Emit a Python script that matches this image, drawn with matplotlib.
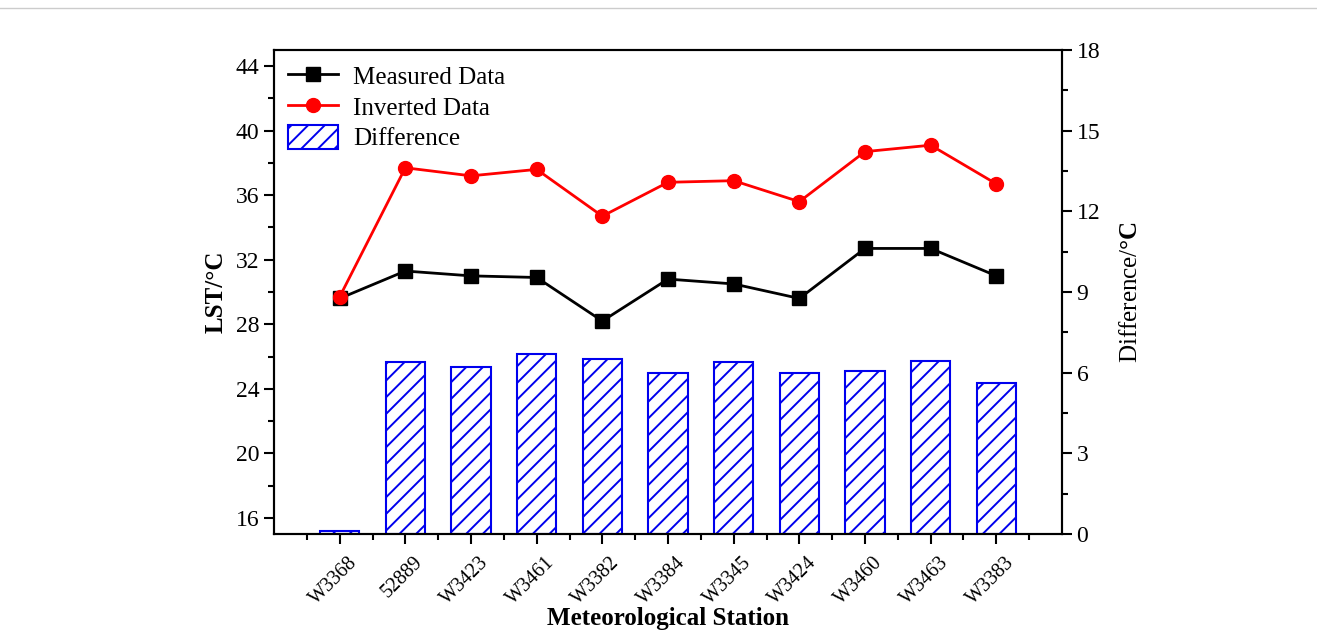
import matplotlib
matplotlib.use("Agg")
import matplotlib.pyplot as plt
from matplotlib.lines import Line2D
from matplotlib.transforms import ScaledTranslation
import numpy as np

stations = ["W3368", "52889", "W3423", "W3461", "W3382", "W3384",
            "W3345", "W3424", "W3460", "W3463", "W3383"]
measured = [29.6, 31.3, 31.0, 30.9, 28.2, 30.8, 30.5, 29.6, 32.7, 32.7, 31.0]
inverted = [29.7, 37.7, 37.2, 37.6, 34.7, 36.8, 36.9, 35.6, 38.7, 39.1, 36.7]
difference = [0.1, 6.4, 6.2, 6.7, 6.5, 6.0, 6.4, 6.0, 6.05, 6.45, 5.63]

plt.rcParams['font.family'] = ['Liberation Serif', 'DejaVu Serif']
plt.rcParams['mathtext.fontset'] = 'custom'
plt.rcParams['mathtext.rm'] = 'Liberation Serif'
plt.rcParams['mathtext.bf'] = 'Liberation Serif:bold'
plt.rcParams['hatch.linewidth'] = 1.4
plt.rcParams['hatch.color'] = '#0000ee'

fig = plt.figure(figsize=(13.17, 6.42), dpi=100)
ax = fig.add_axes([274/1317, 1-534/642, (1062-274)/1317, (534-50)/642])
ax2 = ax.twinx()

x = np.arange(1, len(stations) + 1)

bars = ax2.bar(x, difference, width=0.6, facecolor='white', edgecolor='#0000ee',
               hatch='//', linewidth=1.5, label='Difference')
l1, = ax.plot(x, measured, color='black', marker='s', markersize=10, linewidth=2,
              label='Measured Data')
l2, = ax.plot(x, inverted, color='#ff0000', marker='o', markersize=10, linewidth=2,
              label='Inverted Data')

ax.set_zorder(ax2.get_zorder() + 1)
ax.patch.set_visible(False)

ax.set_xlim(0, 12)
ax.set_ylim(15, 45)
ax2.set_ylim(0, 18)

ax.set_xticks(x)
ax.set_xticklabels(stations, rotation=45, ha='right', rotation_mode='anchor')
ax.set_xticks(np.arange(0.5, 12, 1), minor=True)
ax.set_yticks([16, 20, 24, 28, 32, 36, 40, 44])
ax.set_yticks([18, 22, 26, 30, 34, 38, 42], minor=True)
ax2.set_yticks([0, 3, 6, 9, 12, 15, 18])
ax2.set_yticks([1.5, 4.5, 7.5, 10.5, 13.5, 16.5], minor=True)

for a in (ax, ax2):
    for s in a.spines.values():
        s.set_linewidth(1.5)
    a.tick_params(which='major', direction='out', length=7, width=1.5, labelsize=17)
    a.tick_params(which='minor', direction='out', length=4, width=1.5)
ax.tick_params(axis='x', which='both', top=False, labelsize=14.5)
ax.tick_params(axis='x', pad=3)

offset = ScaledTranslation(8/100, -5/100, fig.dpi_scale_trans)
for lab in ax.get_xticklabels():
    lab.set_transform(lab.get_transform() + offset)

ax.set_ylabel('LST/°C', fontsize=18, fontweight='bold', labelpad=6)
ax2.set_ylabel(r'Difference/$\mathbf{°C}$', fontsize=18, labelpad=14)
ax.set_xlabel('Meteorological Station', fontsize=18, fontweight='bold')
ax.xaxis.set_label_coords(0.5, -0.151)

ax.legend([l1, l2, bars], ['Measured Data', 'Inverted Data', 'Difference'],
          loc='upper left', frameon=False, fontsize=18, handlelength=2.0,
          handleheight=1.1, labelspacing=0.2, borderaxespad=0.25, handletextpad=0.6,
          borderpad=0.3)

fig.add_artist(Line2D([0, 1], [1-8/642, 1-8/642], transform=fig.transFigure,
                      color='#cccccc', linewidth=1))

fig.savefig('out.png', dpi=100)
